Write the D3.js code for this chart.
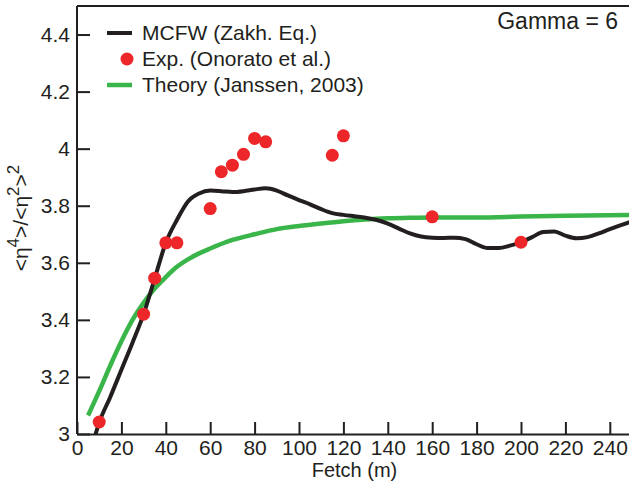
<!DOCTYPE html>
<html>
<head>
<meta charset="utf-8">
<script src="https://cdn.jsdelivr.net/npm/d3@7"></script>
<style>
  body { margin: 0; background: #fff; }
  svg { display: block; font-family: "Liberation Sans", Arial, Helvetica, sans-serif; }
</style>
</head>
<body>
<div id="chart"></div>
<script>
// MCFW (Zakharov equation) simulation curve
let mcfwFetch = [8, 10, 15, 20, 25, 30, 35, 40, 45, 50, 55, 60, 65, 70, 75, 80, 85, 90, 95, 100,
	105, 110, 115, 120, 125, 130, 135, 140, 145, 150, 155, 160, 165, 170, 175, 180, 185, 190, 195, 200,
	205, 210, 215, 220, 225, 230, 235, 240, 245, 250];
let mcfwKurt = [2.99, 3.04, 3.13, 3.225, 3.32, 3.42, 3.545, 3.67, 3.75, 3.815, 3.843, 3.853, 3.851, 3.848, 3.851, 3.857, 3.861, 3.853, 3.836, 3.82,
	3.805, 3.788, 3.774, 3.768, 3.763, 3.758, 3.75, 3.737, 3.72, 3.703, 3.692, 3.688, 3.687, 3.688, 3.683, 3.665, 3.652, 3.652, 3.66, 3.672,
	3.69, 3.708, 3.71, 3.695, 3.686, 3.69, 3.703, 3.718, 3.732, 3.745];

// experiments (Onorato et al.)
let expFetch = [10, 30, 35, 40, 45, 60, 65, 70, 75, 80, 85, 115, 120, 160, 200];
let expKurt = [3.042, 3.42, 3.546, 3.67, 3.67, 3.79, 3.919, 3.942, 3.98, 4.036, 4.024, 3.977, 4.045, 3.761, 3.672];

// theory (Janssen, 2003)
let theoryFetch = [5, 10, 15, 20, 25, 30, 35, 40, 45, 50, 55, 60, 70, 80, 90, 100, 110, 120, 130, 140, 150, 160, 180, 200, 220, 250];
let theoryKurt = [3.065, 3.15, 3.24, 3.325, 3.4, 3.46, 3.51, 3.55, 3.586, 3.612, 3.633, 3.65, 3.68, 3.70, 3.718, 3.729, 3.738, 3.746, 3.752, 3.756, 3.758, 3.759, 3.759, 3.762, 3.765, 3.768];

let xTicks = [0, 20, 40, 60, 80, 100, 120, 140, 160, 180, 200, 220, 240];
let yTicks = [3, 3.2, 3.4, 3.6, 3.8, 4, 4.2, 4.4];
let yTickLabels = ["3", "3.2", "3.4", "3.6", "3.8", "4", "4.2", "4.4"];
let legendLabels = ["MCFW (Zakh. Eq.)", "Exp. (Onorato et al.)", "Theory (Janssen, 2003)"];

let ink = "#231f20", red = "#ec2629", green = "#39b54a";
let width = 629, height = 481;
let mLeft = 77, mRight = 632, mTop = 6, mBottom = 434;

let svg = d3.select("#chart").append("svg")
	.attr("width", width)
	.attr("height", height);

let x = d3.scaleLinear().domain([0, 250]).range([mLeft, mRight]);
let y = d3.scaleLinear().domain([3, 4.5]).range([mBottom, mTop]);

svg.append("clipPath").attr("id", "plot")
	.append("rect")
	.attr("x", mLeft).attr("y", mTop)
	.attr("width", mRight - mLeft).attr("height", mBottom - mTop);

// frame top line
svg.append("line")
	.attr("x1", mLeft).attr("x2", width)
	.attr("y1", y(4.5)).attr("y2", y(4.5))
	.attr("stroke", ink).attr("stroke-width", 2);

let xAxis = svg.append("g")
	.attr("transform", `translate(0,${mBottom})`)
	.call(d3.axisBottom(x).tickValues(xTicks).tickSizeInner(-12).tickSizeOuter(0).tickPadding(6));

let yAxis = svg.append("g")
	.attr("transform", `translate(${mLeft},0)`)
	.call(d3.axisLeft(y).tickValues(yTicks).tickSizeInner(-13).tickSizeOuter(0).tickPadding(7)
		.tickFormat((d, i) => yTickLabels[i]));

[xAxis, yAxis].forEach(g => {
	g.selectAll("path, line").attr("stroke", ink).attr("stroke-width", 2);
	g.selectAll("text").attr("fill", ink).style("font-size", "21px");
	g.attr("font-family", null);
});
yAxis.select(".domain").attr("d", `M0,${mBottom}V${mTop}`);

svg.append("text")
	.attr("x", (mLeft + mRight) / 2).attr("y", 477)
	.attr("text-anchor", "middle")
	.attr("fill", ink).style("font-size", "20px")
	.text("Fetch (m)");

let yLabel = svg.append("text")
	.attr("transform", "translate(28,218) rotate(-90)")
	.attr("text-anchor", "middle")
	.attr("fill", ink).style("font-size", "21px");
yLabel.append("tspan").text("<η");
yLabel.append("tspan").attr("dy", -9).style("font-size", "17px").text("4");
yLabel.append("tspan").attr("dy", 9).text(">/<η");
yLabel.append("tspan").attr("dy", -9).style("font-size", "17px").text("2");
yLabel.append("tspan").attr("dy", 9).text(">");
yLabel.append("tspan").attr("dy", -9).style("font-size", "17px").text("2");

let plot = svg.append("g").attr("clip-path", "url(#plot)");

let line = d3.line()
	.x(d => x(d[0]))
	.y(d => y(d[1]))
	.curve(d3.curveMonotoneX);

plot.append("path")
	.datum(theoryFetch.map((f, i) => [f, theoryKurt[i]]))
	.attr("d", line)
	.attr("fill", "none")
	.attr("stroke", green)
	.attr("stroke-width", 4.5);

plot.append("path")
	.datum(mcfwFetch.map((f, i) => [f, mcfwKurt[i]]))
	.attr("d", line)
	.attr("fill", "none")
	.attr("stroke", ink)
	.attr("stroke-width", 4);

svg.selectAll("circle.exp")
	.data(expFetch.map((f, i) => [f, expKurt[i]]))
	.enter().append("circle")
	.attr("class", "exp")
	.attr("cx", d => x(d[0]))
	.attr("cy", d => y(d[1]))
	.attr("r", 6.5)
	.attr("fill", red);

// legend
let legend = svg.append("g").attr("transform", "translate(107,33)");
let rows = legend.selectAll("g")
	.data(legendLabels).enter()
	.append("g")
	.attr("transform", (d, i) => `translate(0,${i * 26})`);

rows.each(function (d, i) {
	let row = d3.select(this);
	if (i === 1) {
		row.append("circle").attr("cx", 20).attr("cy", 0).attr("r", 6.5).attr("fill", red);
	} else {
		row.append("line")
			.attr("x1", 0).attr("x2", 25)
			.attr("stroke", i === 0 ? ink : green)
			.attr("stroke-width", i === 0 ? 4 : 4.5);
	}
	row.append("text")
		.attr("x", 35).attr("y", 7)
		.attr("fill", ink).style("font-size", "21px")
		.text(d);
});

svg.append("text")
	.attr("x", 618).attr("y", 29)
	.attr("text-anchor", "end")
	.attr("fill", ink).style("font-size", "23px")
	.text("Gamma = 6");
</script>
</body>
</html>
